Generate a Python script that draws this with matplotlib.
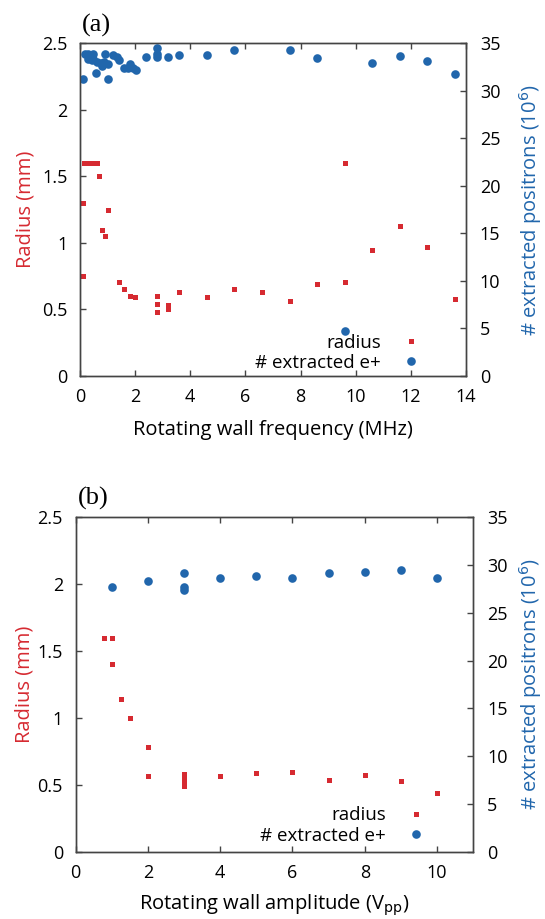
import matplotlib
matplotlib.use("Agg")
from matplotlib import pyplot as plt
from matplotlib.ticker import FormatStrFormatter

plt.rcParams['font.family'] = ['Open Sans', 'DejaVu Sans']

RED = '#d62a31'
BLUE = '#2166ac'
SPINE = '#444444'

# panel (a): radius vs rotating wall frequency
freq_radius = [0.15, 0.25, 0.35, 0.45, 0.55, 0.6, 0.7, 0.1, 1.0, 0.8, 0.9, 0.1, 1.4, 1.6, 1.8, 2.0,
               2.8, 2.8, 2.8, 3.2, 3.2, 3.6, 4.6, 5.6, 6.6, 7.6, 8.6, 9.6, 9.6, 10.6, 11.6, 12.6, 13.6]
radius_a = [1.6, 1.6, 1.6, 1.6, 1.6, 1.6, 1.5, 1.3, 1.25, 1.1, 1.05, 0.75, 0.71, 0.65, 0.6, 0.59,
            0.6, 0.54, 0.48, 0.53, 0.5, 0.63, 0.59, 0.65, 0.63, 0.56, 0.69, 0.71, 1.6, 0.95, 1.13, 0.97, 0.58]

# panel (a): extracted positrons (1e6) vs frequency
freq_pos = [0.1, 0.18, 0.3, 0.46, 0.36, 0.3, 0.42, 0.48, 0.6, 0.76, 0.88, 0.58, 0.91, 0.81, 1.0, 1.03,
            1.21, 1.33, 1.43, 1.61, 1.73, 1.82, 1.94, 2.04, 2.4, 2.8, 2.8, 2.8, 3.2, 3.6, 4.6, 5.6,
            7.6, 8.6, 9.6, 10.6, 11.6, 12.6, 13.6]
positrons_a = [31.2, 33.9, 33.9, 33.9, 33.6, 33.4, 33.2, 33.3, 33.0, 32.9, 33.05, 31.9, 33.9, 32.6, 31.2, 32.8,
               33.75, 33.6, 33.2, 32.4, 32.4, 32.8, 32.4, 32.2, 33.6, 34.5, 33.9, 33.6, 33.6, 33.75, 33.8, 34.25,
               34.25, 33.5, 4.7, 32.95, 33.7, 33.1, 31.8]

# panel (b): radius vs rotating wall amplitude
amp_radius = [0.8, 1.0, 1.0, 1.25, 1.5, 2, 2, 3, 3, 3, 3, 4, 5, 6, 7, 8, 9, 10]
radius_b = [1.6, 1.6, 1.4, 1.14, 1.0, 0.78, 0.57, 0.58, 0.55, 0.52, 0.49, 0.57, 0.59, 0.6, 0.535, 0.575, 0.53, 0.44]

# panel (b): extracted positrons vs amplitude
amp_pos = [1, 2, 3, 3, 3, 4, 5, 6, 7, 8, 9, 10]
positrons_b = [27.7, 28.35, 29.2, 27.7, 27.4, 28.6, 28.8, 28.6, 29.2, 29.3, 29.5, 28.6]

radius_ticks = [0, 0.5, 1, 1.5, 2, 2.5]
positron_ticks = [0, 5, 10, 15, 20, 25, 30, 35]

fig = plt.figure(figsize=(5.45, 9.19), dpi=100)


def make_panel(rect, x_r, y_r, x_p, y_p, xlim, xticks, xlabel, tag, leg_anchor,
               xlabelpad, left_x, right_x):
    ax = fig.add_axes(rect)
    ax2 = ax.twinx()
    h1, = ax.plot(x_r, y_r, 's', color=RED, markersize=3.6, markeredgewidth=0, label='radius')
    h2, = ax2.plot(x_p, y_p, 'o', color=BLUE, markersize=6.2, markeredgewidth=0, label='# extracted e+')
    ax.set_xlim(*xlim)
    ax.set_ylim(0, 2.5)
    ax2.set_ylim(0, 35)
    ax.set_xticks(xticks)
    ax.set_yticks(radius_ticks)
    ax2.set_yticks(positron_ticks)
    ax.yaxis.set_major_formatter(FormatStrFormatter('%g'))
    ax.tick_params(direction='in', length=4, width=1, color=SPINE, labelsize=13, top=True)
    ax.tick_params(axis='x', pad=9)
    ax.tick_params(axis='y', pad=9)
    ax2.tick_params(direction='in', length=4, width=1, color=SPINE, labelsize=13, pad=10)
    for a in (ax, ax2):
        for s in a.spines.values():
            s.set_color(SPINE)
            s.set_linewidth(1)
    ax.set_xlabel(xlabel, fontsize=14.5, labelpad=xlabelpad)
    ax.set_ylabel('Radius (mm)', color=RED, fontsize=14.5, va='center')
    ax2.set_ylabel('# extracted positrons (10$^6$)', color=BLUE, fontsize=14.5, va='center')
    ax.yaxis.set_label_coords(left_x, 0.5)
    ax2.yaxis.set_label_coords(right_x, 0.5)
    ax.text(0.005, 1.02, tag, transform=ax.transAxes, family='Liberation Serif', fontsize=19, ha='left', va='bottom')
    ax2.legend(handles=[h1, h2], loc='lower right', bbox_to_anchor=leg_anchor, frameon=False,
               markerfirst=False, fontsize=13.5, handlelength=1.0, handletextpad=1.1,
               borderpad=0, borderaxespad=0, labelspacing=0.12)
    return ax


make_panel([80 / 545, 1 - 376 / 919, 386 / 545, 332.7 / 919],
           freq_radius, radius_a, freq_pos, positrons_a,
           (0, 14), [0, 2, 4, 6, 8, 10, 12, 14], 'Rotating wall frequency (MHz)', '(a)', (0.882, 0.012),
           10, -0.142, 1.166)
make_panel([75.5 / 545, 1 - 852 / 919, 397.8 / 545, 335 / 919],
           amp_radius, radius_b, amp_pos, positrons_b,
           (0, 11), [0, 2, 4, 6, 8, 10], 'Rotating wall amplitude (V$_{\\mathrm{pp}}$)', '(b)', (0.879, 0.022),
           7, -0.127, 1.145)

fig.savefig('out.png', dpi=100)
